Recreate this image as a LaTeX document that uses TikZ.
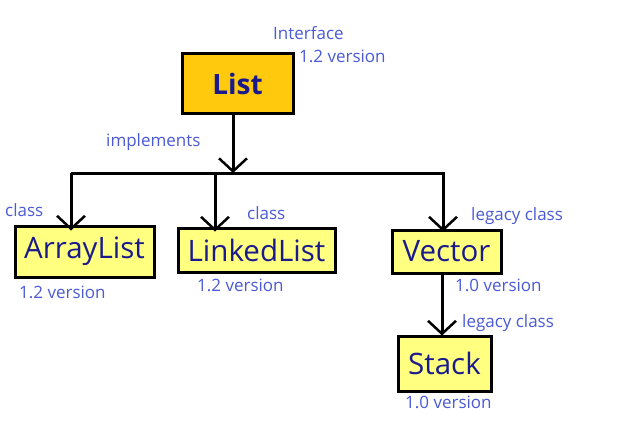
\documentclass[tikz,border=0pt]{standalone}
\usepackage{fontspec}
\setmainfont{Open Sans}
\usetikzlibrary{arrows.meta}
\definecolor{navy}{HTML}{1A1A8C}
\definecolor{lbl}{HTML}{4B5AD6}
\definecolor{gold}{HTML}{FFC90E}
\definecolor{lyel}{HTML}{FFFF80}
\tikzset{
  box/.style={draw=black,line width=3pt,fill=lyel,text=navy,inner sep=0pt,
    font=\fontsize{29.5}{32}\selectfont},
  lab/.style={text=lbl,inner sep=0pt,font=\fontsize{17}{20}\selectfont,anchor=west},
  arr/.style={line width=3pt,-{Straight Barb[length=13pt,width=28pt,line width=2.5pt]}},
  ln/.style={line width=3pt}
}
\begin{document}
\begin{tikzpicture}[x=1pt,y=-1pt]
\useasboundingbox[fill=white] (0,0) rectangle (635,437);
\node[box,fill=gold,minimum width=111pt,minimum height=60pt,font=\fontsize{28}{30}\selectfont\bfseries] (list) at (237.5,83.5) {List};
\node[box,minimum width=139pt,minimum height=51pt] (al) at (84.5,251.5) {ArrayList};
\node[box,minimum width=157pt,minimum height=44pt] (ll) at (256.5,250) {LinkedList};
\node[box,minimum width=109pt,minimum height=43pt] (vec) at (446.5,251.5) {Vector};
\node[box,minimum width=93pt,minimum height=55pt] (st) at (444.5,363.5) {Stack};
\coordinate (j) at (233,173);
\coordinate (bl) at (71,173);
\coordinate (bm) at (215,173);
\coordinate (br) at (443,173);
\draw[ln] (bl) -- ([xshift=1.5pt]br);
\draw[arr] (list.south -| j) -- (j);
\draw[arr] (bl) -- ([yshift=-6pt]al.north -| bl);
\draw[arr] (bm) -- ([yshift=-5pt]ll.north -| bm);
\draw[arr] (br) -- ([yshift=-3pt]vec.north -| br);
\draw[arr] (vec.south -| 442,0) -- ([yshift=-1pt]st.north -| 442,0);
\node[lab] (t1) at (273,33) {Interface};
\node[lab] (t2) at (299,56) {1.2 version};
\node[lab] (t3) at (106,142) {implements};
\node[lab] (t4) at (5,210) {class};
\node[lab] (t5) at (247,213) {class};
\node[lab] (t6) at (19,292) {1.2 version};
\node[lab] (t7) at (197,285) {1.2 version};
\node[lab] (t8) at (471,216) {legacy class};
\node[lab] (t9) at (455,285) {1.0 version};
\node[lab] (t10) at (462,323) {legacy class};
\node[lab] (t11) at (405,402) {1.0 version};
\end{tikzpicture}
\end{document}
